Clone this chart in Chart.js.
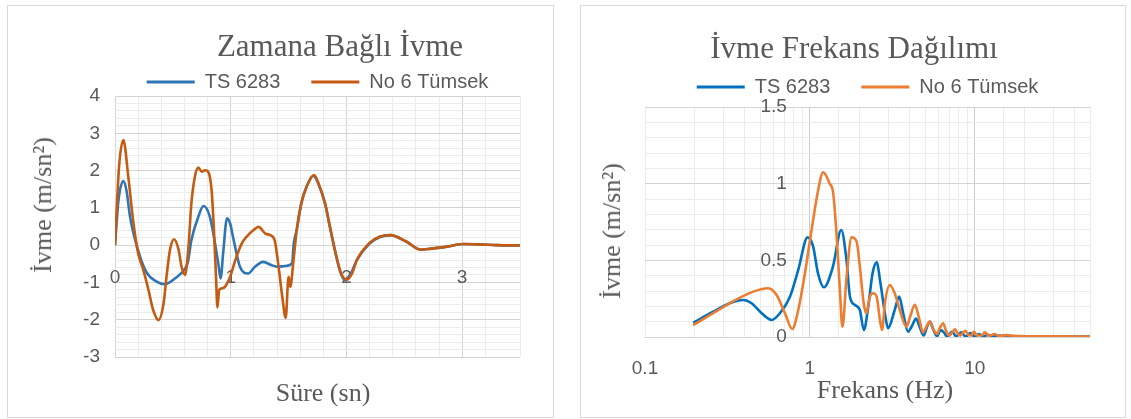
<!DOCTYPE html>
<html>
<head>
<meta charset="utf-8">
<script src="https://cdn.jsdelivr.net/npm/chart.js@4.4.1/dist/chart.umd.min.js"></script>
<style>
    body { margin: 0; width: 1131px; height: 419px; background: #fff; position: relative; overflow: hidden; color: #595959; font-family: 'Liberation Serif', 'Times New Roman', serif; }
    .box { position: absolute; border: 1px solid #d9d9d9; box-sizing: border-box; }
    canvas { position: absolute; }
    .lbl { position: absolute; white-space: nowrap; line-height: 1; transform: translate(-50%, -50%); }
    .rot { transform: translate(-50%, -50%) rotate(-90deg); }
    .big { font-size: 31px; }
    .axt { font-size: 26px; }
</style>
</head>
<body>
<div class="box" style="left:7px;top:5px;width:547px;height:413px"></div>
<div class="box" style="left:580px;top:5px;width:546px;height:413px"></div>
<canvas id="timeChart" width="545" height="411" style="left:8px;top:6px"></canvas>
<canvas id="freqChart" width="544" height="411" style="left:581px;top:6px"></canvas>

<div class="lbl big" style="left:340px;top:45px">Zamana Bağlı İvme</div>
<div class="lbl big" style="left:854px;top:47px">İvme Frekans Dağılımı</div>
<div class="lbl axt rot" style="left:43px;top:205px">İvme (m/sn²)</div>
<div class="lbl axt rot" style="left:612px;top:231px">İvme (m/sn²)</div>
<div class="lbl axt" style="left:323px;top:393px">Süre (sn)</div>
<div class="lbl axt" style="left:885px;top:390px">Frekans (Hz)</div>

<script>
const seriesNames = ['TS 6283', 'No 6 Tümsek'];

// Zamana bağlı ivme (s, m/sn2)
const tsTime = [0, 0.03, 0.072, 0.10, 0.13, 0.19, 0.27, 0.36, 0.43, 0.52, 0.605, 0.63, 0.66, 0.72, 0.765, 0.82, 0.865, 0.895, 0.913, 0.935, 0.968, 0.995, 1.02, 1.08, 1.15, 1.21, 1.28, 1.355, 1.41, 1.47, 1.53, 1.545, 1.57, 1.61, 1.66, 1.715, 1.76, 1.815, 1.86, 1.90, 1.95, 1.99, 2.04, 2.09, 2.20, 2.29, 2.38, 2.52, 2.64, 2.72, 2.87, 3.01, 3.15, 3.30, 3.50];
const tsAccel = [0, 1.2, 1.72, 1.45, 0.76, -0.04, -0.72, -0.98, -1.05, -0.89, -0.63, -0.45, 0.13, 0.76, 1.05, 0.76, 0.04, -0.55, -0.89, -0.2, 0.72, 0.58, 0.22, -0.58, -0.76, -0.58, -0.45, -0.54, -0.58, -0.56, -0.49, 0.05, 0.4, 1.12, 1.6, 1.86, 1.62, 1.12, 0.45, -0.13, -0.75, -0.94, -0.75, -0.4, 0.04, 0.22, 0.27, 0.09, -0.12, -0.1, -0.04, 0.03, 0.02, 0.0, -0.01];
const tumTime = [0, 0.035, 0.072, 0.115, 0.16, 0.20, 0.245, 0.29, 0.33, 0.375, 0.42, 0.445, 0.475, 0.51, 0.55, 0.575, 0.605, 0.635, 0.66, 0.69, 0.72, 0.75, 0.78, 0.805, 0.835, 0.855, 0.873, 0.885, 0.90, 0.92, 0.95, 0.995, 1.04, 1.095, 1.15, 1.195, 1.24, 1.30, 1.34, 1.38, 1.41, 1.446, 1.475, 1.50, 1.515, 1.54, 1.57, 1.61, 1.66, 1.72, 1.76, 1.815, 1.86, 1.90, 1.95, 2.0, 2.05, 2.09, 2.20, 2.29, 2.38, 2.52, 2.64, 2.72, 2.87, 3.01, 3.15, 3.30, 3.50];
const tumAccel = [0, 2.1, 2.82, 1.83, 0.58, -0.22, -0.67, -1.21, -1.74, -2.01, -1.56, -0.85, -0.13, 0.16, -0.13, -0.58, -0.8, -0.04, 1.12, 1.83, 2.08, 1.97, 2.01, 1.97, 1.47, 0.40, -0.85, -1.67, -1.21, -1.16, -1.12, -0.85, -0.4, 0.04, 0.27, 0.4, 0.49, 0.31, 0.27, 0.13, -0.49, -1.39, -1.95, -0.85, -1.12, -0.49, 0.4, 1.12, 1.6, 1.88, 1.65, 1.12, 0.45, -0.13, -0.72, -0.93, -0.75, -0.4, 0.06, 0.23, 0.27, 0.09, -0.12, -0.1, -0.04, 0.03, 0.02, 0.0, -0.01];

// İvme frekans dağılımı (Hz, m/sn2)
const tsFreq = [0.196, 0.259, 0.327, 0.394, 0.443, 0.51, 0.586, 0.658, 0.757, 0.85, 0.968, 1.047, 1.12, 1.216, 1.38, 1.549, 1.668, 1.75, 1.874, 2.01, 2.125, 2.26, 2.4, 2.54, 2.68, 2.85, 2.98, 3.27, 3.48, 3.68, 3.94, 4.15, 4.4, 4.65, 4.9, 5.15, 5.35, 5.6, 5.9, 6.2, 6.5, 6.8, 7.3, 7.7, 8.3, 8.8, 9.4, 10, 10.6, 11.3, 12, 13, 14, 16, 20, 30, 50];
const tsAmp = [0.093, 0.165, 0.22, 0.241, 0.22, 0.155, 0.111, 0.155, 0.263, 0.437, 0.65, 0.59, 0.415, 0.324, 0.459, 0.698, 0.5, 0.263, 0.209, 0.176, 0.046, 0.198, 0.415, 0.487, 0.35, 0.155, 0.057, 0.176, 0.263, 0.155, 0.035, 0.07, 0.12, 0.06, 0.01, 0.07, 0.10, 0.05, 0.005, 0.045, 0.03, 0.003, 0.035, 0.005, 0.03, 0.003, 0.025, 0.003, 0.02, 0.003, 0.015, 0.003, 0.01, 0.005, 0.004, 0.003, 0.003];
const tumFreq = [0.196, 0.259, 0.36, 0.454, 0.559, 0.628, 0.706, 0.782, 0.85, 0.933, 1.024, 1.123, 1.204, 1.32, 1.384, 1.45, 1.52, 1.575, 1.67, 1.79, 1.92, 2.01, 2.12, 2.2, 2.31, 2.42, 2.54, 2.66, 2.74, 2.85, 3.05, 3.27, 3.51, 3.85, 4.05, 4.33, 4.6, 4.85, 5.1, 5.34, 5.6, 5.9, 6.15, 6.43, 6.7, 7.0, 7.3, 7.6, 7.9, 8.2, 8.5, 8.8, 9.1, 9.5, 9.9, 10.3, 11, 11.5, 12.2, 13.2, 14, 15.5, 18, 22, 30, 50];
const tumAmp = [0.078, 0.155, 0.246, 0.296, 0.318, 0.274, 0.155, 0.052, 0.176, 0.415, 0.698, 0.959, 1.074, 1.0, 0.94, 0.676, 0.307, 0.067, 0.393, 0.65, 0.622, 0.459, 0.22, 0.155, 0.263, 0.285, 0.263, 0.111, 0.046, 0.22, 0.339, 0.285, 0.176, 0.067, 0.13, 0.21, 0.12, 0.03, 0.07, 0.10, 0.05, 0.02, 0.06, 0.09, 0.04, 0.01, 0.03, 0.05, 0.02, 0.01, 0.03, 0.04, 0.015, 0.01, 0.035, 0.01, 0.01, 0.03, 0.008, 0.02, 0.006, 0.012, 0.006, 0.005, 0.004, 0.003];

// tick labels shown on the axes
const timeTicks = [0, 1, 2, 3];
const accelTicks = [-3, -2, -1, 0, 1, 2, 3, 4];
const freqTicks = [0.1, 1, 10];
const ampTicks = [0, 0.5, 1, 1.5];

Chart.defaults.font.family = "'Liberation Sans', Arial, sans-serif";
Chart.defaults.color = '#595959';

const toPoints = (xs, ys) => xs.map((x, i) => ({ x, y: ys[i] }));
const near = (v, list) => list.some(t => Math.abs(t - v) < 1e-6);
const isPow10 = (v) => Math.abs(Math.log10(v) - Math.round(Math.log10(v))) < 1e-6;

function legendOpts(top) {
    return {
        position: 'top',
        fullSize: false,
        maxHeight: top,
        labels: {
            boxWidth: 48,
            boxHeight: 3,
            padding: 31,
            color: '#595959',
            font: { size: 20 },
            generateLabels: (chart) => chart.data.datasets.map((d, i) => ({
                text: d.label,
                fillStyle: d.borderColor,
                strokeStyle: d.borderColor,
                lineWidth: 0,
                fontColor: '#595959',
                hidden: false,
                datasetIndex: i
            }))
        }
    };
}

function lineSet(label, points, color, order) {
    return {
        label,
        data: points,
        borderColor: color,
        backgroundColor: color,
        borderWidth: 2.6,
        pointRadius: 0,
        cubicInterpolationMode: 'monotone',
        order
    };
}

// Zamana bağlı ivme
new Chart(document.getElementById('timeChart'), {
    type: 'line',
    data: {
        datasets: [
            lineSet(seriesNames[0], toPoints(tsTime, tsAccel), '#2E75B6', 1),
            lineSet(seriesNames[1], toPoints(tumTime, tumAccel), '#C55A11', 0)
        ]
    },
    options: {
        responsive: false,
        animation: false,
        devicePixelRatio: 1,
        layout: { padding: { left: 0, right: 33, top: 35, bottom: 60 } },
        plugins: {
            legend: legendOpts(55),
            tooltip: { enabled: false }
        },
        scales: {
            x: {
                type: 'linear',
                position: { y: 0 },
                min: 0,
                max: 3.5,
                afterFit: (s) => { s.height = 0; },
                border: { display: false },
                grid: {
                    drawTicks: false,
                    color: (c) => near(c.tick.value, timeTicks) ? '#d4d4d4' : '#ececec'
                },
                ticks: {
                    stepSize: 0.2,
                    autoSkip: false,
                    maxRotation: 0,
                    padding: 21,
                    font: { size: 19 },
                    callback: (v) => near(v, timeTicks) ? String(Math.round(v)) : ''
                }
            },
            y: {
                min: -3,
                max: 4,
                afterFit: (s) => { s.width = 107; },
                border: { display: false },
                grid: {
                    drawTicks: false,
                    color: (c) => near(c.tick.value, accelTicks) ? '#d4d4d4' : '#ececec'
                },
                ticks: {
                    stepSize: 0.2,
                    autoSkip: false,
                    padding: 15,
                    font: { size: 19 },
                    callback: (v) => near(v, accelTicks) ? String(Math.round(v)) : ''
                }
            }
        }
    }
});

// İvme frekans dağılımı
new Chart(document.getElementById('freqChart'), {
    type: 'line',
    data: {
        datasets: [
            lineSet(seriesNames[0], toPoints(tsFreq, tsAmp), '#0070C0', 1),
            lineSet(seriesNames[1], toPoints(tumFreq, tumAmp), '#ED7D31', 0)
        ]
    },
    options: {
        responsive: false,
        animation: false,
        devicePixelRatio: 1,
        layout: { padding: { left: 64, right: 35, top: 40, bottom: 0 } },
        plugins: {
            legend: legendOpts(61),
            tooltip: { enabled: false }
        },
        scales: {
            x: {
                type: 'logarithmic',
                position: 'bottom',
                min: 0.1,
                max: 50,
                afterFit: (s) => { s.height = 80; },
                border: { display: false },
                grid: {
                    drawTicks: false,
                    color: (c) => isPow10(c.tick.value) && c.tick.value > 0.5 ? '#cccccc' : '#ececec'
                },
                ticks: {
                    autoSkip: false,
                    maxRotation: 0,
                    padding: 20,
                    font: { size: 19 },
                    callback: (v) => near(v, freqTicks) ? String(+v.toPrecision(3)) : ''
                }
            },
            y: {
                // labels sit just left of the 1 Hz line, as in the original
                position: { x: 0.725 },
                min: 0,
                max: 1.5,
                afterFit: (s) => { s.width = 0; },
                border: { display: false },
                grid: {
                    drawTicks: false,
                    color: (c) => near(c.tick.value, ampTicks) ? '#d4d4d4' : '#ececec'
                },
                ticks: {
                    stepSize: 0.1,
                    autoSkip: false,
                    font: { size: 19 },
                    callback: (v) => near(v, ampTicks) ? String(+v.toFixed(1)) : ''
                }
            }
        }
    }
});
</script>
</body>
</html>
